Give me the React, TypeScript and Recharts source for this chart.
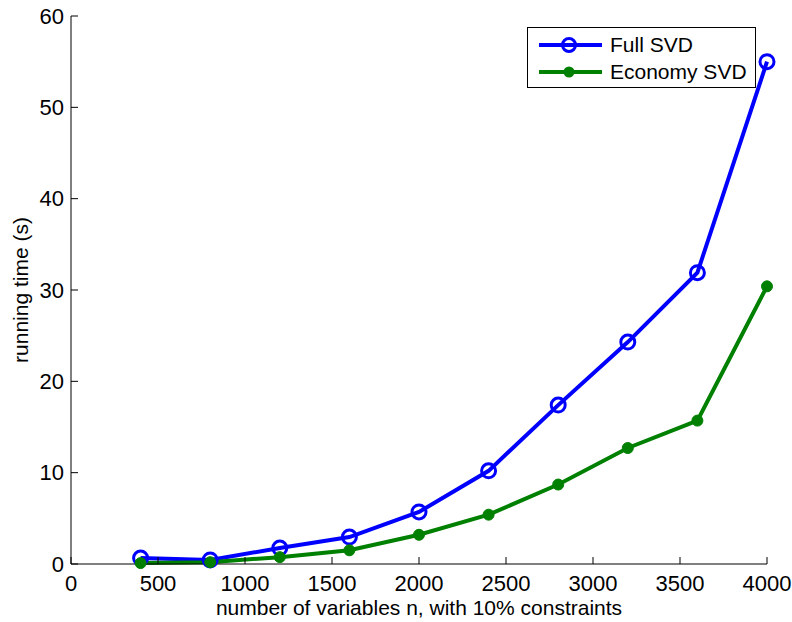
import React from 'react';
import { LineChart, Line, XAxis, YAxis } from 'recharts';

const sizes = [400, 800, 1200, 1600, 2000, 2400, 2800, 3200, 3600, 4000];
const fullSvd = [0.65, 0.45, 1.75, 2.95, 5.7, 10.2, 17.4, 24.3, 31.9, 55.0];
const economySvd = [0.1, 0.2, 0.75, 1.5, 3.2, 5.4, 8.7, 12.7, 15.7, 30.4];
const xTicks = [0, 500, 1000, 1500, 2000, 2500, 3000, 3500, 4000];
const yTicks = [0, 10, 20, 30, 40, 50, 60];

const data = sizes.map((n, i) => ({ n, full: fullSvd[i], economy: economySvd[i] }));

const font = 'Liberation Sans, Arial, Helvetica, sans-serif';
const tickStyle = { fill: '#000', fontSize: 22, fontFamily: font };

const legendItems = [
  { name: 'Full SVD', color: '#0000ff', open: true },
  { name: 'Economy SVD', color: '#008000', open: false },
];

// legend drawn as an overlay so it doesn't eat plot space
const LegendBox: React.FC = () => (
  <div
    style={{
      position: 'absolute',
      left: 527,
      top: 27,
      width: 229,
      height: 61,
      border: '1px solid #000',
      background: '#fff',
      boxSizing: 'border-box',
      fontFamily: font,
      fontSize: 21,
      color: '#000',
    }}
  >
    {legendItems.map((item, i) => (
      <div key={i} style={{ position: 'absolute', left: 0, top: 4 + i * 27, height: 26, display: 'flex', alignItems: 'center' }}>
        <svg width={82} height={26}>
          <line x1={11} x2={74} y1={13} y2={13} stroke={item.color} strokeWidth={4} />
          {item.open ? (
            <circle cx={41} cy={13} r={6.5} fill="none" stroke={item.color} strokeWidth={3} />
          ) : (
            <circle cx={41} cy={13} r={5.5} fill={item.color} />
          )}
        </svg>
        <span style={{ marginLeft: 0, lineHeight: '26px' }}>{item.name}</span>
      </div>
    ))}
  </div>
);

export default function App() {
  return (
    <div style={{ position: 'absolute', left: 0, top: 0, width: 792, height: 622, background: '#fff' }}>
      <LineChart
        width={792}
        height={622}
        data={data}
        margin={{ top: 16, right: 25, left: 11, bottom: 8 }}
      >
        <XAxis
          xAxisId="bottom"
          type="number"
          dataKey="n"
          domain={[0, 4000]}
          ticks={xTicks}
          height={50}
          stroke="#000"
          tickSize={-7}
          tickMargin={18}
          tick={tickStyle}
          label={{ value: 'number of variables n, with 10% constraints', position: 'insideBottom', offset: -1, style: { fill: '#000', fontSize: 21, fontFamily: font } }}
        />
        <XAxis
          xAxisId="top"
          orientation="top"
          type="number"
          dataKey="n"
          domain={[0, 4000]}
          ticks={xTicks}
          height={0}
          stroke="#000"
          tickSize={-7}
          tick={false}
        />
        <YAxis
          yAxisId="left"
          type="number"
          domain={[0, 60]}
          ticks={yTicks}
          width={60}
          stroke="#000"
          tickSize={-7}
          tickMargin={14}
          tick={tickStyle}
          label={{ value: 'running time (s)', angle: -90, position: 'insideLeft', offset: 10, style: { fill: '#000', fontSize: 21, fontFamily: font, textAnchor: 'middle' } }}
        />
        <YAxis
          yAxisId="right"
          orientation="right"
          type="number"
          domain={[0, 60]}
          ticks={yTicks}
          width={0}
          stroke="#000"
          tickSize={-7}
          tick={false}
        />
        <Line
          xAxisId="bottom"
          yAxisId="left"
          type="linear"
          dataKey="full"
          name="Full SVD"
          stroke="#0000ff"
          strokeWidth={4}
          dot={{ r: 7, fill: 'none', stroke: '#0000ff', strokeWidth: 3 }}
          isAnimationActive={false}
        />
        <Line
          xAxisId="bottom"
          yAxisId="left"
          type="linear"
          dataKey="economy"
          name="Economy SVD"
          stroke="#008000"
          strokeWidth={4}
          dot={{ r: 5.5, fill: '#008000', stroke: '#008000', strokeWidth: 1 }}
          isAnimationActive={false}
        />
      </LineChart>
      <LegendBox />
    </div>
  );
}
